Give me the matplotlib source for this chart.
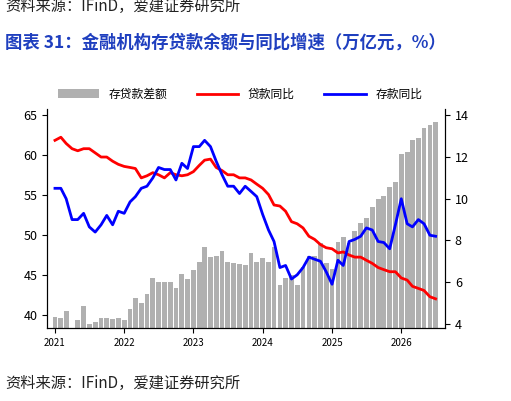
import numpy as np
import matplotlib
matplotlib.use("Agg")
import matplotlib.pyplot as plt
import pandas as pd

plt.rcParams['font.family'] = ['Noto Sans CJK SC', 'DejaVu Sans']

dates = pd.date_range("2021-01-01", periods=67, freq="MS")
gap = [39.8, 39.6, 40.5, np.nan, 39.4, 41.1, 38.9, 39.1, 39.7, 39.7, 39.5, 39.6,
       39.4, 40.8, 42.1, 41.5, 42.7, 44.7, 44.1, 44.1, 44.2, 43.4, 45.2, 44.5,
       45.6, 46.6, 48.5, 47.3, 47.4, 48.0, 46.6, 46.5, 46.4, 46.3, 47.8, 46.7,
       47.2, 46.7, 48.5, 43.8, 44.6, 45.0, 43.8, 46.0, 47.4, 47.4, 49.1, 46.5,
       45.8, 49.2, 49.8, 49.0, 50.6, 51.6, 52.2, 53.6, 54.5, 54.9, 56.0, 56.7,
       60.2, 60.4, 61.9, 62.2, 63.4, 63.8, 64.2]
loan = [12.8, 12.95, 12.65, 12.4, 12.3, 12.4, 12.4, 12.2, 12.0, 12.0, 11.8, 11.65,
        11.55, 11.5, 11.45, 11.0, 11.1, 11.25, 11.15, 11.0, 11.25, 11.15, 11.1, 11.15,
        11.3, 11.6, 11.85, 11.9, 11.5, 11.35, 11.15, 11.15, 11.0, 11.0, 10.9, 10.7,
        10.5, 10.2, 9.7, 9.65, 9.4, 8.9, 8.8, 8.6, 8.2, 8.05, 7.8, 7.65,
        7.6, 7.4, 7.45, 7.3, 7.2, 7.2, 7.05, 6.9, 6.7, 6.6, 6.5, 6.5,
        6.2, 6.1, 5.8, 5.7, 5.6, 5.3, 5.2]
dep = [10.5, 10.5, 10.0, 9.0, 9.0, 9.3, 8.65, 8.4, 8.75, 9.2, 8.75, 9.4,
       9.3, 9.85, 10.1, 10.5, 10.6, 11.0, 11.5, 11.4, 11.4, 10.9, 11.7, 11.45,
       12.5, 12.5, 12.8, 12.5, 11.8, 11.15, 10.6, 10.6, 10.25, 10.6, 10.35, 10.1,
       9.25, 8.5, 7.95, 6.7, 6.8, 6.15, 6.35, 6.7, 7.2, 7.1, 7.0, 6.5,
       5.9, 7.05, 6.8, 7.95, 8.05, 8.2, 8.6, 8.5, 7.95, 7.9, 7.6, 8.75,
       10.0, 8.8, 8.65, 9.0, 8.8, 8.25, 8.2]

fig = plt.figure(figsize=(5.11, 4.01), dpi=100)
ax = fig.add_axes([0.092, 0.182, 0.779, 0.546])
ax2 = ax.twinx()
bottom = 38.4
ax.bar(dates, np.array(gap) - bottom, bottom=bottom, width=25, color='#b0b0b0', label='存贷款差额')
ax.set_ylim(38.4, 65.8)
ax.set_yticks([40, 45, 50, 55, 60, 65])
ax2.plot(dates, loan, color='red', lw=2, label='贷款同比')
ax2.plot(dates, dep, color='blue', lw=2, label='存款同比')
ax2.set_ylim(3.8, 14.3)
ax2.set_yticks([4, 6, 8, 10, 12, 14])
ax.set_xlim(pd.Timestamp("2020-11-20"), pd.Timestamp("2026-08-20"))
ax.set_xticks(pd.date_range("2021-01-01", periods=6, freq="YS"))
ax.set_xticklabels([str(y) for y in range(2021, 2027)])
for a in (ax, ax2):
    a.tick_params(labelsize=9)
    a.spines['top'].set_visible(False)
ax.tick_params(axis='x', labelsize=7)
h1, l1 = ax.get_legend_handles_labels()
h2, l2 = ax2.get_legend_handles_labels()
fig.legend(h1 + h2, l1 + l2, loc='center', bbox_to_anchor=(0.47, 0.765), ncol=3, frameon=False,
           fontsize=8.5, handlelength=3.5, columnspacing=2.5)
fig.text(0.01, 0.985, "资料来源：IFinD，爱建证券研究所", fontsize=11, va='center', color='#222222')
fig.text(0.01, 0.895, "图表 31：金融机构存贷款余额与同比增速（万亿元，%）", fontsize=12.5, weight='bold', color='#1f3fbf', va='center')
fig.text(0.01, 0.045, "资料来源：IFinD，爱建证券研究所", fontsize=11, va='center', color='#222222')
fig.savefig("out.png", dpi=100)
